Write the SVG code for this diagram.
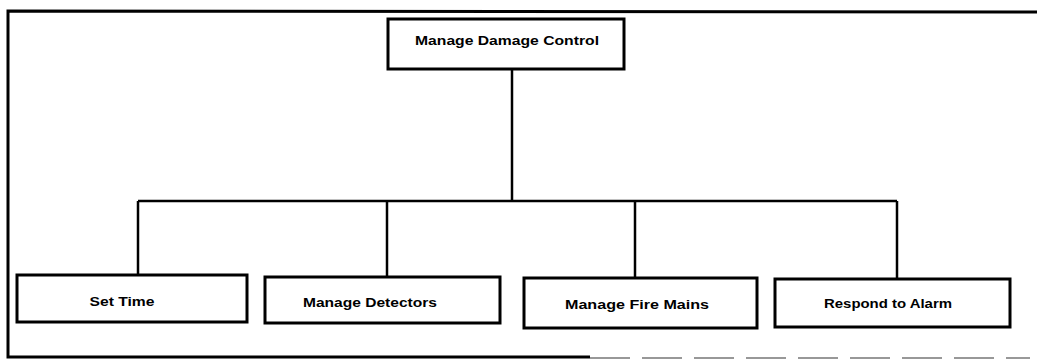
<svg xmlns="http://www.w3.org/2000/svg" width="1037" height="360" viewBox="0 0 1037 360">
<style>
.box{fill:#fff;stroke:#000;stroke-width:3}
.lbl{font-family:"Liberation Sans",Arial,sans-serif;font-weight:bold;font-size:13px;fill:#000;text-anchor:middle}
.con{fill:none;stroke:#000;stroke-width:2.5}
.frame{fill:none;stroke:#000;stroke-width:3}
</style>
<rect width="1037" height="360" fill="#fff"/>
<g id="frame">
<path class="frame" d="M1037,12 L8,11 L8,357 L590,357"/>
<path d="M590,358 L1030,358" fill="none" stroke="#777" stroke-width="1.5" stroke-dasharray="40,12"/>
</g>
<g id="connectors">
<path class="con" d="M512,69 L512,201"/>
<path class="con" d="M138,201 L897,201"/>
<path class="con" d="M138,201 L138,275"/>
<path class="con" d="M387,201 L387,277"/>
<path class="con" d="M635,201 L635,278"/>
<path class="con" d="M897,201 L897,279"/>
</g>
<g id="n0">
<rect class="box" x="388" y="19" width="236" height="50"/>
<text class="lbl" x="507" y="45" textLength="184" lengthAdjust="spacingAndGlyphs">Manage Damage Control</text>
</g>
<g id="n1">
<rect class="box" x="17" y="275" width="230" height="47"/>
<text class="lbl" x="122" y="306" textLength="65" lengthAdjust="spacingAndGlyphs">Set Time</text>
</g>
<g id="n2">
<rect class="box" x="265" y="277" width="235" height="46"/>
<text class="lbl" x="370" y="307" textLength="134" lengthAdjust="spacingAndGlyphs">Manage Detectors</text>
</g>
<g id="n3">
<rect class="box" x="524" y="278" width="233" height="50"/>
<text class="lbl" x="637" y="309" textLength="144" lengthAdjust="spacingAndGlyphs">Manage Fire Mains</text>
</g>
<g id="n4">
<rect class="box" x="775" y="279" width="235" height="48"/>
<text class="lbl" x="888" y="308" textLength="128" lengthAdjust="spacingAndGlyphs">Respond to Alarm</text>
</g>
</svg>
